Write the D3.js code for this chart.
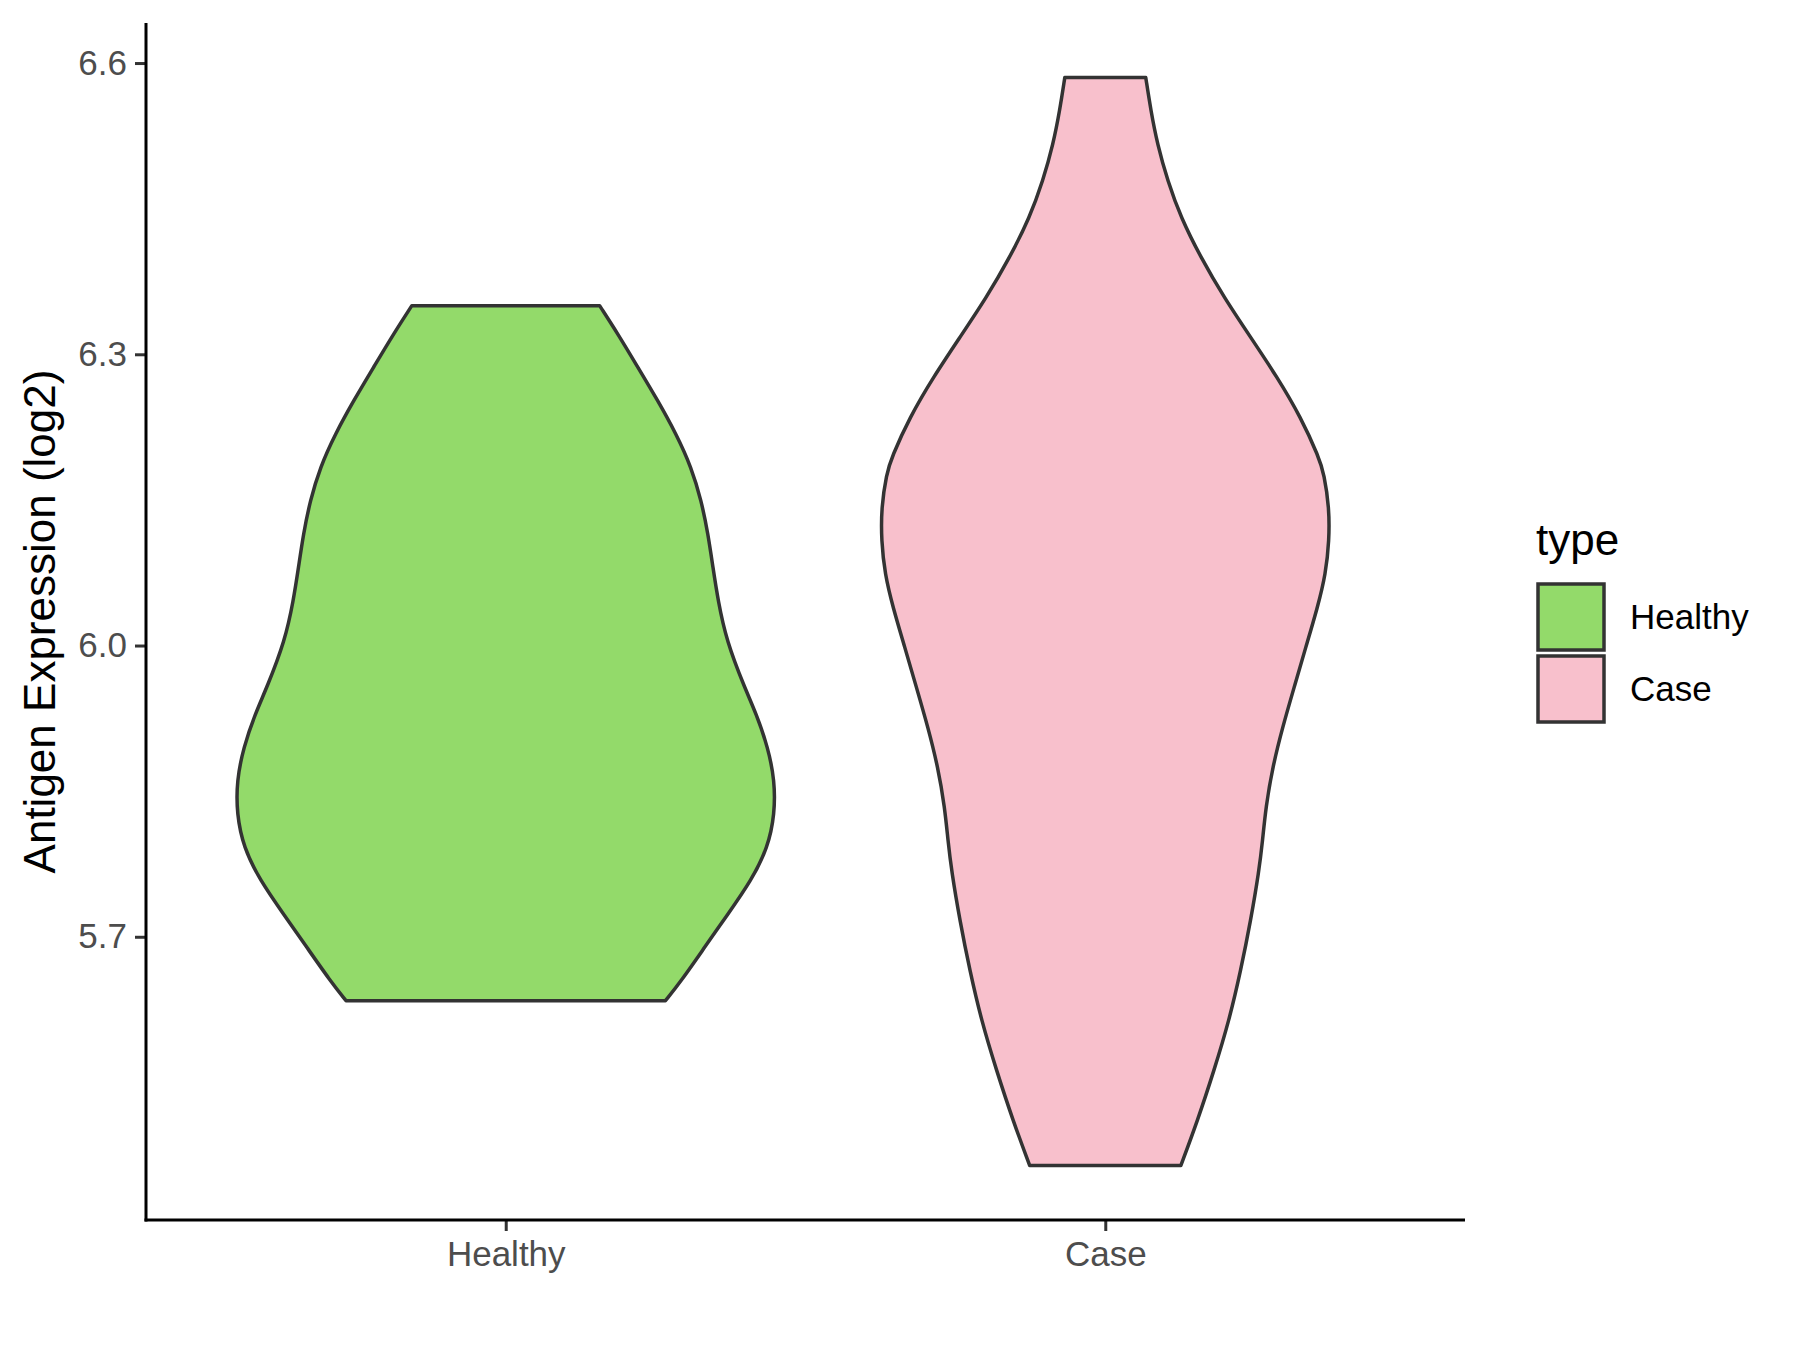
<!DOCTYPE html>
<html>
<head>
<meta charset="utf-8">
<script src="https://cdn.jsdelivr.net/npm/d3@7"></script>
<style>
  body { margin: 0; background: #ffffff; }
  svg { display: block; }
  text { font-family: "Liberation Sans", Arial, sans-serif; }
</style>
</head>
<body>
<svg id="chart" width="1800" height="1350"></svg>
<script>
// ---- data ----
const categories = ["Healthy", "Case"];
const fills = ["#93DA6A", "#F8C0CC"];

// violin outline: value (log2) and relative density (1 = widest of all)
const healthyValues  = [6.3501, 6.3209, 6.2865, 6.2522, 6.2179, 6.1836, 6.1492, 6.1149, 6.0805, 6.0462, 6.0050, 5.9569, 5.9295, 5.8951, 5.8608, 5.8265, 5.7921, 5.7578, 5.7235, 5.6891, 5.6548, 5.6342];
const healthyDensity = [0.348, 0.416, 0.490, 0.564, 0.632, 0.688, 0.725, 0.750, 0.768, 0.787, 0.818, 0.885, 0.929, 0.972, 0.997, 0.997, 0.972, 0.910, 0.824, 0.737, 0.651, 0.592];

const caseValues  = [6.5852, 6.5509, 6.5166, 6.4788, 6.4410, 6.3998, 6.3586, 6.3174, 6.2762, 6.2350, 6.1938, 6.1767, 6.1423, 6.1080, 6.0737, 6.0393, 5.9981, 5.9569, 5.9157, 5.8745, 5.8333, 5.7990, 5.7681, 5.7166, 5.6651, 5.6136, 5.5621, 5.5106, 5.4643];
const caseDensity = [0.150, 0.169, 0.193, 0.231, 0.280, 0.354, 0.440, 0.539, 0.638, 0.725, 0.792, 0.811, 0.830, 0.830, 0.817, 0.787, 0.743, 0.700, 0.657, 0.620, 0.595, 0.583, 0.570, 0.539, 0.502, 0.459, 0.403, 0.342, 0.280];

const yTicks = [5.7, 6.0, 6.3, 6.6];
const yTitle = "Antigen Expression (log2)";
const legendTitle = "type";

// ---- layout ----
const svg = d3.select("#chart");
const panel = { left: 146, right: 1465, top: 23, bottom: 1220 };

const series = [
  { name: categories[0], values: healthyValues, density: healthyDensity, fill: fills[0] },
  { name: categories[1], values: caseValues, density: caseDensity, fill: fills[1] }
];

const allVals = healthyValues.concat(caseValues);
const vmin = d3.min(allVals), vmax = d3.max(allVals);
const pad = (vmax - vmin) * 0.05;

const x = d3.scalePoint().domain(categories).range([panel.left, panel.right]).padding(0.6);
const y = d3.scaleLinear().domain([vmin - pad, vmax + pad]).range([panel.bottom, panel.top]);
const w = d3.scaleLinear().domain([0, 1]).range([0, 0.45 * x.step()]);

// ---- violins ----
series.forEach(s => {
  const pts = s.values.map((v, i) => ({ v, d: s.density[i] }));
  const cx = x(s.name);
  const area = d3.area()
    .y(p => y(p.v))
    .x0(p => cx - w(p.d))
    .x1(p => cx + w(p.d))
    .curve(d3.curveBasis);
  svg.append("path")
    .attr("d", area(pts))
    .attr("fill", s.fill)
    .attr("stroke", "#333333")
    .attr("stroke-width", 3.5)
    .attr("stroke-linejoin", "round");
});

// ---- axes ----
const yAxis = d3.axisLeft(y).tickValues(yTicks).tickFormat(d3.format(".1f")).tickSize(11).tickPadding(8);
const gy = svg.append("g").attr("transform", `translate(${panel.left},0)`).call(yAxis);
gy.select(".domain").remove();
gy.selectAll(".tick line").attr("stroke", "#333333").attr("stroke-width", 3);
gy.selectAll(".tick text").attr("fill", "#4D4D4D").style("font-size", "35px");

const xAxis = d3.axisBottom(x).tickSize(11).tickPadding(10);
const gx = svg.append("g").attr("transform", `translate(0,${panel.bottom})`).call(xAxis);
gx.select(".domain").remove();
gx.selectAll(".tick line").attr("stroke", "#333333").attr("stroke-width", 3);
gx.selectAll(".tick text").attr("fill", "#4D4D4D").style("font-size", "35px");

// axis lines
svg.append("line").attr("x1", panel.left).attr("x2", panel.left)
  .attr("y1", panel.top).attr("y2", panel.bottom + 1.5)
  .attr("stroke", "#000").attr("stroke-width", 3);
svg.append("line").attr("x1", panel.left - 1.5).attr("x2", panel.right)
  .attr("y1", panel.bottom).attr("y2", panel.bottom)
  .attr("stroke", "#000").attr("stroke-width", 3);

// y title
svg.append("text")
  .attr("transform", `translate(55,${(panel.top + panel.bottom) / 2}) rotate(-90)`)
  .attr("text-anchor", "middle")
  .style("font-size", "44px")
  .attr("fill", "#000")
  .text(yTitle);

// ---- legend ----
const lg = svg.append("g");
lg.append("text").attr("x", 1536).attr("y", 555).style("font-size", "44px").attr("fill", "#000").text(legendTitle);
series.forEach((s, i) => {
  const ky = 584 + i * 72;
  lg.append("rect").attr("x", 1538).attr("y", ky).attr("width", 66).attr("height", 66)
    .attr("fill", s.fill).attr("stroke", "#333333").attr("stroke-width", 3.5);
  lg.append("text").attr("x", 1630).attr("y", ky + 33).attr("dy", "0.35em")
    .style("font-size", "35px").attr("fill", "#000").text(s.name);
});
</script>
</body>
</html>
